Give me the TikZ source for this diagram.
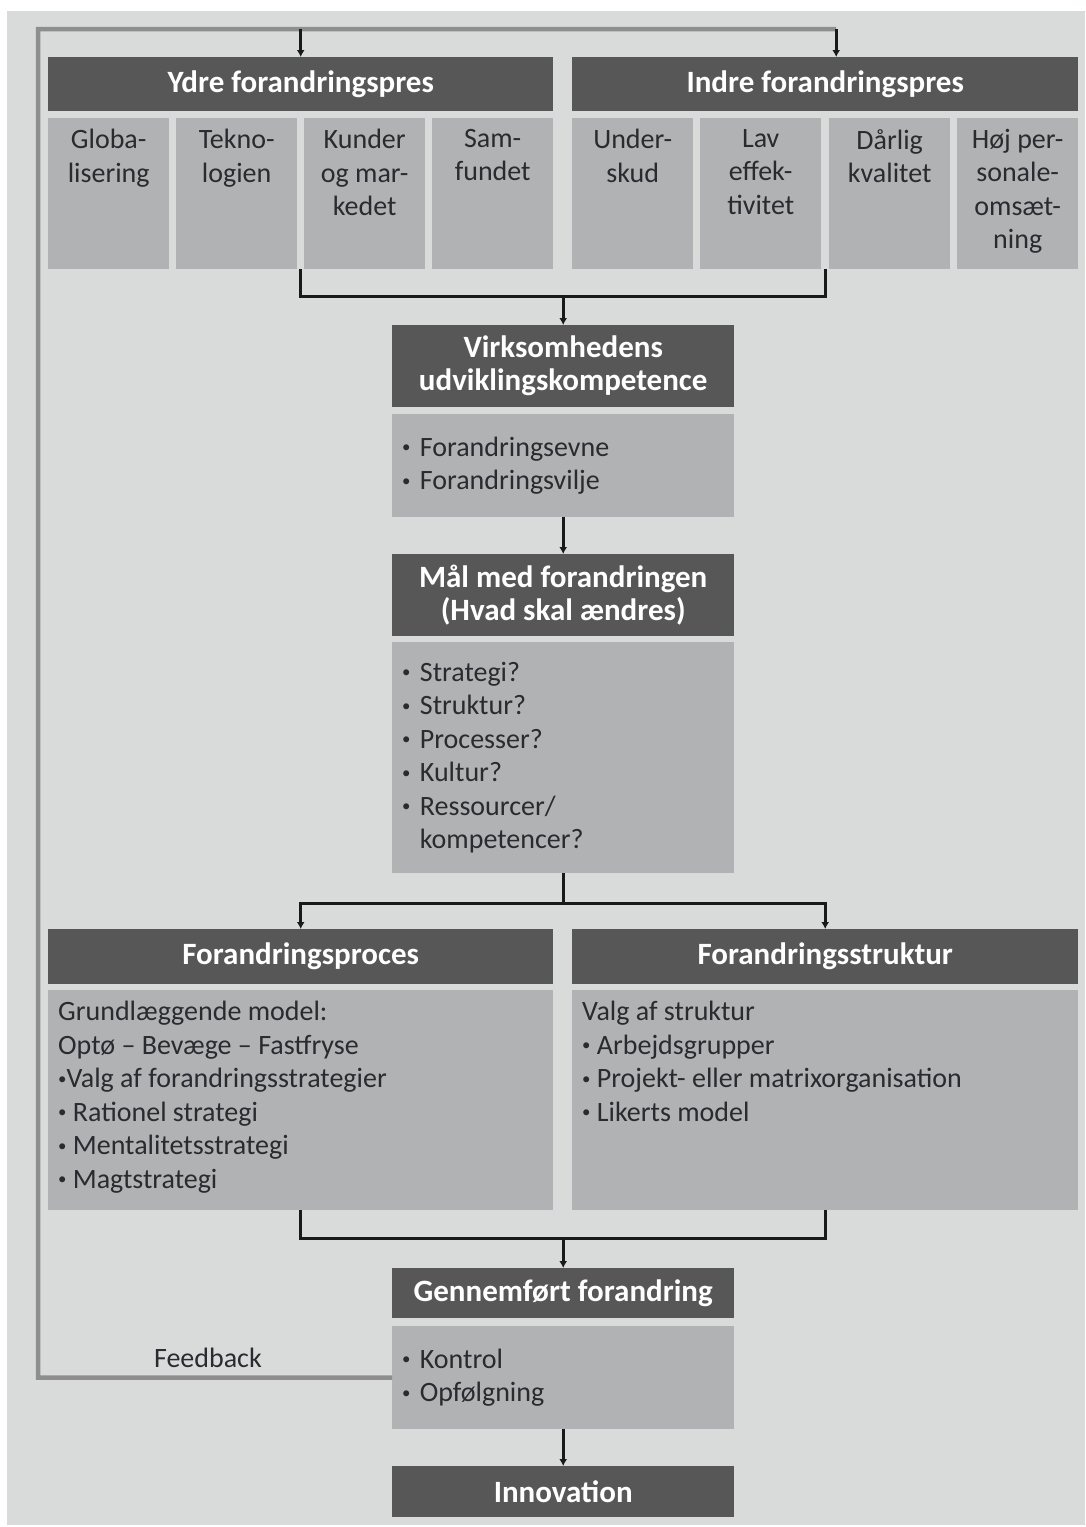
\documentclass[tikz,border=0pt]{standalone}
\usepackage{fontspec}
\setmainfont{Carlito}
\usepackage{xcolor}
\usepackage{graphicx}
\usetikzlibrary{arrows.meta, calc}

\definecolor{bggray}{HTML}{D9DBDA}
\definecolor{headgray}{HTML}{575757}
\definecolor{cellgray}{HTML}{B1B2B3}
\definecolor{loopgray}{HTML}{8E8E8E}
\definecolor{txtgray}{HTML}{2A2A30}

\newcommand{\bul}{\raisebox{0.12em}{\scalebox{0.6}{\textbullet}}}
\newcommand{\topcell}[3]{\parbox[t][#2][t]{#1}{\vspace*{11pt}#3}}

\begin{document}
\begin{tikzpicture}[x=1pt, y=-1pt,
  head/.style={fill=headgray, text=white, font=\fontsize{31}{33}\selectfont\bfseries, anchor=north west, inner sep=0pt, align=center},
  body/.style={fill=cellgray, text=txtgray, font=\fontsize{28}{33.5}\selectfont, anchor=north west, inner xsep=10pt, inner ysep=0pt, align=left},
  cell/.style={fill=cellgray, text=txtgray, font=\fontsize{28}{33.5}\selectfont, anchor=north west, inner sep=0pt},
  conn/.style={line width=3pt, draw=black!90},
  arr/.style={conn, -{Latex[length=7pt,width=8pt]}},
  fbline/.style={line width=4.5pt, draw=loopgray}]
  \useasboundingbox (0,0) rectangle (1085,1527);
  \fill[white] (0,0) rectangle (1085,1527);
  \fill[bggray] (7,11) rectangle (1085,1525);

  \node[head, minimum width=505pt, minimum height=54pt] (ydre) at (48,57) {Ydre forandringspres};
  \node[head, minimum width=506pt, minimum height=54pt] (indre) at (572,57) {Indre forandringspres};
  \node[cell] (s1) at (48,118) {\topcell{121pt}{151pt}{\centering Globa-\\lisering}};
  \node[cell] (s2) at (176,118) {\topcell{121pt}{151pt}{\centering Tekno-\\logien}};
  \node[cell] (s3) at (304,118) {\topcell{121pt}{151pt}{\centering Kunder\\og mar-\\kedet}};
  \node[cell] (s4) at (432,118) {\topcell{121pt}{151pt}{\centering Sam-\\fundet}};
  \node[cell] (s5) at (572,118) {\topcell{121pt}{151pt}{\centering Under-\\skud}};
  \node[cell] (s6) at (700,118) {\topcell{121pt}{151pt}{\centering Lav\\effek-\\tivitet}};
  \node[cell] (s7) at (829,118) {\topcell{121pt}{151pt}{\centering Dårlig\\kvalitet}};
  \node[cell] (s8) at (957,118) {\topcell{121pt}{151pt}{\centering Høj per-\\sonale-\\omsæt-\\ning}};

  \node[head, minimum width=342pt, minimum height=82pt] (virk) at (392,325) {Virksomhedens\\udviklingskompetence};
  \node[body, text width=322pt, minimum height=103pt] (vbody) at (392,414) {\bul\ Forandringsevne\\\bul\ Forandringsvilje};
  \node[head, minimum width=342pt, minimum height=82pt] (maal) at (392,554) {Mål med forandringen\\(Hvad skal ændres)};
  \node[body, text width=322pt, minimum height=231pt] (mbody) at (392,642) {\bul\ Strategi?\\\bul\ Struktur?\\\bul\ Processer?\\\bul\ Kultur?\\\bul\ Ressourcer/\\\phantom{\bul\ }kompetencer?};

  \node[head, minimum width=505pt, minimum height=55pt] (proc) at (48,929) {Forandringsproces};
  \node[cell, inner xsep=10pt] (pbody) at (48,990) {\topcell{485pt}{220pt}{\raggedright Grundlæggende model:\\Optø -- Bevæge -- Fastfryse\\\bul Valg af forandringsstrategier\\\bul\ Rationel strategi\\\bul\ Mentalitetsstrategi\\\bul\ Magtstrategi}};
  \node[head, minimum width=506pt, minimum height=55pt] (strukt) at (572,929) {Forandringsstruktur};
  \node[cell, inner xsep=10pt] (sbody) at (572,990) {\topcell{486pt}{220pt}{\raggedright Valg af struktur\\\bul\ Arbejdsgrupper\\\bul\ Projekt- eller matrixorganisation\\\bul\ Likerts model}};

  \node[head, minimum width=342pt, minimum height=50pt] (gennem) at (392,1268) {Gennemført forandring};
  \node[body, text width=322pt, minimum height=103pt] (gbody) at (392,1326) {\bul\ Kontrol\\\bul\ Opfølgning};
  \node[head, minimum width=342pt, minimum height=51pt] (innov) at (392,1466) {Innovation};

  \coordinate (fbcorner) at (38,1377.5);
  \coordinate (fbtop) at ($(indre.north)+(11,-28)$);
  \draw[fbline] (gbody.west) -- node[pos=0.52, above, text=txtgray, font=\fontsize{28}{33.5}\selectfont, inner sep=8pt] {Feedback} (fbcorner) |- (fbtop);
  \draw[arr] (fbtop) -- (indre.north -| fbtop);
  \draw[arr] (ydre.north |- fbtop) -- (ydre.north);

  \coordinate (brL) at ($(s2.south east)!.5!(s3.south west)$);
  \coordinate (brR) at ($(s6.south east)!.5!(s7.south west)$);
  \coordinate (brmid) at ($(brL)+(0,27)$);
  \draw[conn] (brL) -- (brmid) -| (brR);
  \draw[arr] (virk.north |- brmid) -- (virk.north);
  \draw[arr] (vbody.south) -- (maal.north);

  \draw[conn] (mbody.south) -- ++(0,30) coordinate (split);
  \draw[arr] (split) -| (proc.north);
  \draw[arr] (split) -| (strukt.north);

  \coordinate (joinmid) at ($(pbody.south)+(0,28)$);
  \draw[conn] (pbody.south) -- (joinmid) -| (sbody.south);
  \draw[arr] (gennem.north |- joinmid) -- (gennem.north);
  \draw[arr] (gbody.south) -- (innov.north);
\end{tikzpicture}
\end{document}
